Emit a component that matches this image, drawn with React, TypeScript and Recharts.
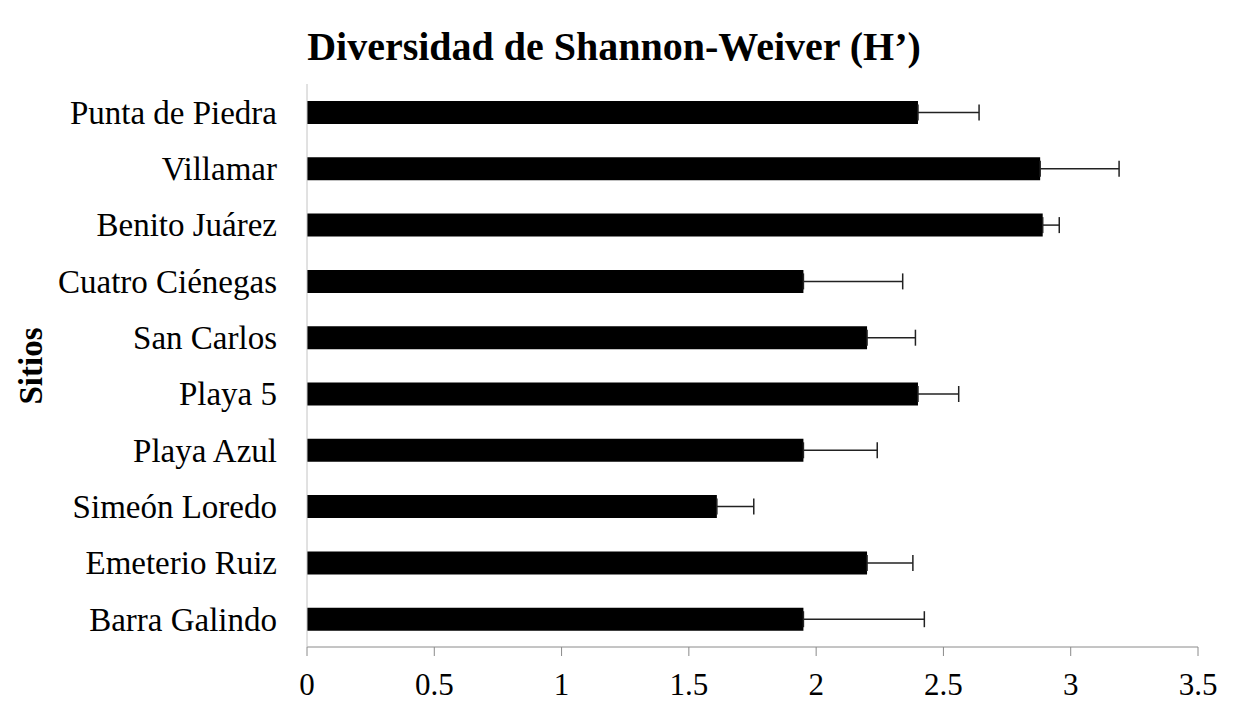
import React from 'react';
import { BarChart, Bar, XAxis, YAxis, ErrorBar } from 'recharts';

const sites = [
  'Punta de Piedra',
  'Villamar',
  'Benito Juárez',
  'Cuatro Ciénegas',
  'San Carlos',
  'Playa 5',
  'Playa Azul',
  'Simeón Loredo',
  'Emeterio Ruiz',
  'Barra Galindo',
];
const hValues = [2.4, 2.88, 2.89, 1.95, 2.2, 2.4, 1.95, 1.61, 2.2, 1.95];
const hErrors = [0.24, 0.31, 0.065, 0.39, 0.19, 0.16, 0.29, 0.145, 0.18, 0.475];
const xTicks = [0, 0.5, 1, 1.5, 2, 2.5, 3, 3.5];

const titleText = 'Diversidad de Shannon-Weiver (H’)';
const yAxisTitle = 'Sitios';

const data = sites.map((s, i) => ({ site: s, h: hValues[i], err: [0, hErrors[i]] }));

const FONT = '"Liberation Serif", "Times New Roman", serif';

const SitiosLabel = () => (
  <text
    x={42}
    y={366}
    transform="rotate(-90 42 366)"
    textAnchor="middle"
    fontFamily={FONT}
    fontWeight="bold"
    fontSize={33}
    fill="#000"
  >
    {yAxisTitle}
  </text>
);

export default function App() {
  return (
    <div style={{ position: 'absolute', left: 0, top: 0, width: 1234, height: 720, background: '#fff' }}>
      <div
        style={{
          position: 'absolute',
          left: 0,
          top: 27,
          width: 1228,
          textAlign: 'center',
          fontFamily: FONT,
          fontWeight: 'bold',
          fontSize: 40,
          lineHeight: '40px',
          color: '#000',
        }}
      >
        {titleText}
      </div>
      <BarChart
        width={1234}
        height={720}
        data={data}
        layout="vertical"
        margin={{ top: 84, right: 36, bottom: 13, left: 87 }}
        barCategoryGap={0}
      >
        <XAxis
          type="number"
          domain={[0, 3.5]}
          ticks={xTicks}
          height={60}
          stroke="#8a8a8a"
          tickSize={9}
          tickMargin={17}
          tick={{ fontFamily: FONT, fontSize: 31, fill: '#000' }}
        />
        <YAxis
          type="category"
          dataKey="site"
          width={220}
          stroke="#c4c4c4"
          tickLine={false}
          tickSize={0}
          tickMargin={30}
          tick={{ fontFamily: FONT, fontSize: 33, fill: '#000' }}
          label={<SitiosLabel />}
        />
        <Bar dataKey="h" fill="#000" barSize={23} isAnimationActive={false}>
          <ErrorBar dataKey="err" direction="x" width={8} stroke="#222" strokeWidth={1.5} />
        </Bar>
      </BarChart>
    </div>
  );
}
